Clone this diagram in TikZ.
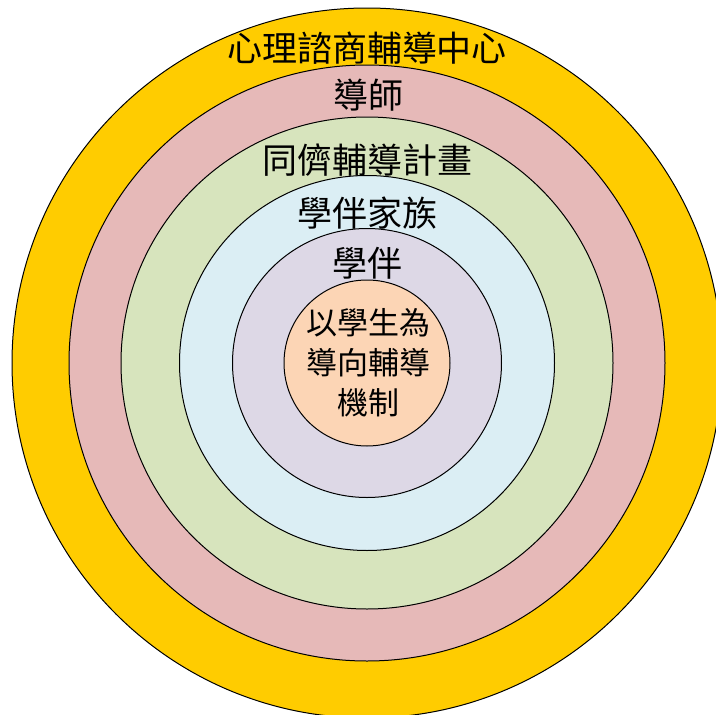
\documentclass[tikz,border=0pt]{standalone}
\usepackage{fontspec}
\newfontfamily\cjk{Noto Sans CJK TC}
\definecolor{cyellow}{HTML}{FFCC00}
\definecolor{cpink}{HTML}{E6B9B8}
\definecolor{cgreen}{HTML}{D7E4BD}
\definecolor{cblue}{HTML}{DBEEF4}
\definecolor{cpurple}{HTML}{DDD8E6}
\definecolor{corange}{HTML}{FCD5B5}
\tikzset{
  ring/.style={circle,draw=black,line width=1pt,inner sep=0pt},
  lab/.style={inner sep=0pt,font=\cjk\fontsize{35}{40}\selectfont},
  inlab/.style={inner sep=0pt,align=center,font=\cjk\fontsize{31}{40}\selectfont}
}
\begin{document}
\begin{tikzpicture}[x=1pt,y=-1pt]
\useasboundingbox (0,0) rectangle (716,715);
\node[ring,fill=cyellow,minimum size=710pt] (c1) at (367,363) {};
\node[ring,fill=cpink,minimum size=596pt] (c2) at (367,363) {};
\node[ring,fill=cgreen,minimum size=492pt] (c3) at (367,363) {};
\node[ring,fill=cblue,minimum size=375pt] (c4) at (367,363) {};
\node[ring,fill=cpurple,minimum size=269pt] (c5) at (367,363) {};
\node[ring,fill=corange,minimum size=166pt] (c6) at (367,363) {};
\node[lab] (t1) at (367,48) {心理諮商輔導中心};
\node[lab] (t2) at (368,95) {導師};
\node[lab] (t3) at (367,160) {同儕輔導計畫};
\node[lab] (t4) at (367,213) {學伴家族};
\node[lab] (t5) at (367,263) {學伴};
\node[inlab] (t6) at (368,363) {以學生為\\導向輔導\\機制};
\end{tikzpicture}
\end{document}
